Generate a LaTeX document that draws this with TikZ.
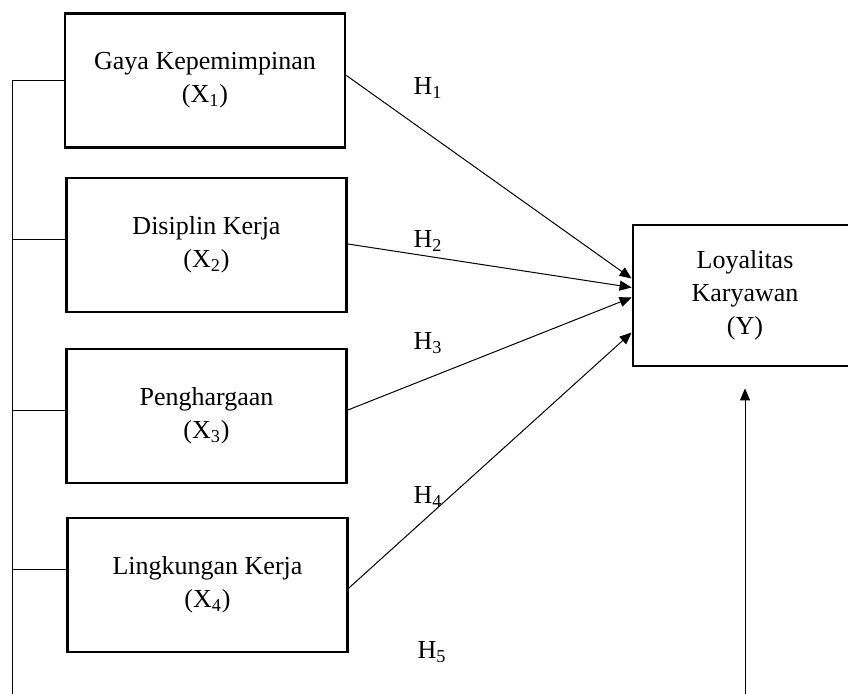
\documentclass[tikz,border=0pt]{standalone}
\usepackage{fontspec}
\setmainfont{Liberation Serif}
\usetikzlibrary{arrows.meta,calc}

\tikzset{
  kotak/.style={draw, line width=1.4pt, minimum width=140pt, minimum height=67pt, align=center, inner sep=2pt},
  panah/.style={-{Triangle[length=6pt,width=5pt]}, line width=0.5pt},
  garis/.style={line width=0.5pt},
  hipo/.style={inner sep=0pt}
}

\begin{document}
\begin{tikzpicture}[x=0.5pt, y=-0.5pt, font=\fontsize{13}{16.4}\selectfont]
    \useasboundingbox (0,0) rectangle (848,694);

    % Variabel bebas
    \node[kotak] (x1) at (205,80.5) {Gaya Kepemimpinan\\(X\textsubscript{1})};
    \node[kotak] (x2) at (206.5,245) {Disiplin Kerja\\(X\textsubscript{2})};
    \node[kotak] (x3) at (206.5,416) {Penghargaan\\(X\textsubscript{3})};
    \node[kotak] (x4) at (207.5,585) {Lingkungan Kerja\\(X\textsubscript{4})};

    % Variabel terikat
    \node[kotak, minimum width=112pt, minimum height=70.5pt] (y) at (745,295.5) {Loyalitas\\Karyawan\\(Y)};

    % Garis penghubung di kiri
    \coordinate (b1) at (12,81);
    \coordinate (b2) at (12,240);
    \coordinate (b3) at (12,411);
    \coordinate (b4) at (12,570);
    \coordinate (bawah) at (12,694);
    \draw[garis] (b1) -- (bawah);
    \foreach \i in {1,...,4}
        \draw[garis] (b\i) -- (b\i -| x\i.west);

    % Panah H1 - H4
    \draw[panah] ($(x1.east)+(0,-5)$) -- ($(y.west)+(0,-17)$);
    \draw[panah] ($(x2.east)+(0,-1)$) -- ($(y.west)+(0,-8)$);
    \draw[panah] ($(x3.east)+(0,-6)$) -- ($(y.west)+(0,2)$);
    \draw[panah] ($(x4.east)+(0,3)$) -- ($(y.west)+(0,37)$);

    % Panah H5 dari bawah
    \coordinate (h5bawah) at (745,694);
    \draw[panah] (h5bawah) -- ($(y.south)+(0,21)$);

    % Label hipotesis
    \node[hipo] (h1) at (428,88) {H\textsubscript{1}};
    \node[hipo] (h2) at (428,241) {H\textsubscript{2}};
    \node[hipo] (h3) at (428,343) {H\textsubscript{3}};
    \node[hipo] (h4) at (428,497) {H\textsubscript{4}};
    \node[hipo] (h5) at (432,652) {H\textsubscript{5}};
\end{tikzpicture}
\end{document}
